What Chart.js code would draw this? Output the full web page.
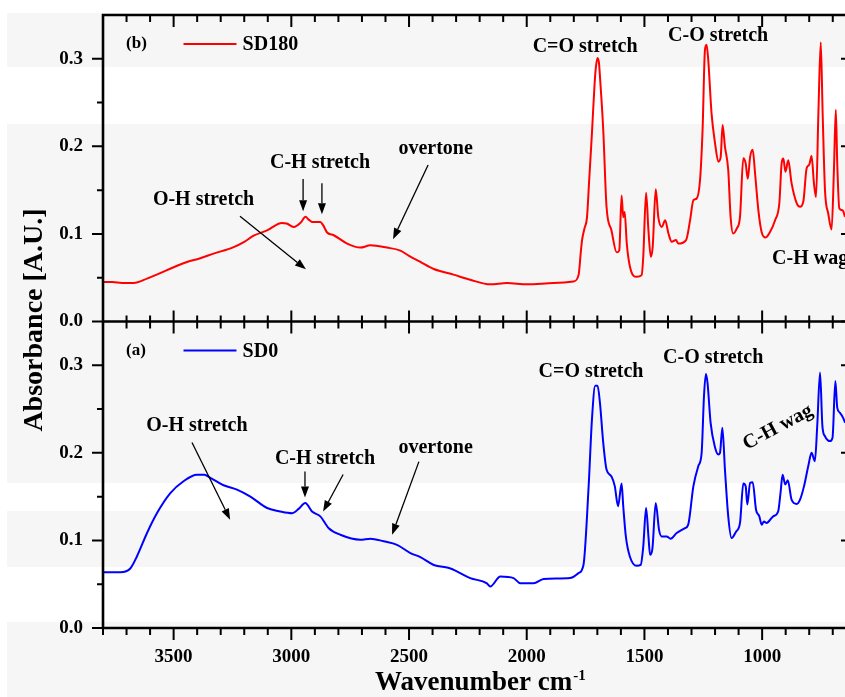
<!DOCTYPE html>
<html>
<head>
<meta charset="utf-8">
<title>FTIR spectra SD0 / SD180</title>
<script src="https://cdn.jsdelivr.net/npm/chart.js@4.4.1/dist/chart.umd.min.js"></script>
<style>
  html, body { margin: 0; padding: 0; background: #fff; overflow: hidden; }
  #wrap { position: relative; width: 845px; height: 697px; }
</style>
</head>
<body>
<div id="wrap"><canvas id="ftirChart" width="845" height="697"></canvas></div>
<script>
// Axis settings
const xMin = 648;
const xMax = 3800;
const yMin = 0;
const yMax = 0.35;
const xMajorTicks = [1000, 1500, 2000, 2500, 3000, 3500];
const yMajorTicks = [0.0, 0.1, 0.2, 0.3];

// SD180 spectrum (top panel, b)
const sd180Wavenumber = [
  3800, 3760, 3720, 3670, 3613, 3560, 3500, 3443, 3390, 3330, 3245, 3200, 3160, 3103, 3040, 3020,
  2990, 2960, 2940, 2925, 2912, 2877, 2865, 2848, 2820, 2763, 2707, 2664, 2594, 2537, 2500, 2452,
  2395, 2311, 2240, 2155, 2084, 1999, 1886, 1801, 1780, 1770, 1765, 1755, 1744, 1735, 1723, 1712,
  1706, 1699, 1693, 1689, 1675, 1661, 1640, 1618, 1607, 1597, 1590, 1584, 1575, 1561, 1533, 1512,
  1505, 1493, 1483, 1473, 1465, 1452, 1441, 1426, 1412, 1398, 1384, 1366, 1356, 1323, 1306, 1292,
  1278, 1264, 1253, 1243, 1236, 1229, 1215, 1200, 1186, 1176, 1168, 1158, 1144, 1134, 1123, 1108,
  1094, 1080, 1070, 1061, 1051, 1040, 1030, 1016, 1002, 985, 967, 945, 927, 917, 910, 901,
  889, 875, 853, 839, 825, 811, 800, 790, 780, 771, 761, 751, 743, 733, 719, 705,
  695, 687, 681, 672, 658, 648
];
const sd180Absorbance = [
  0.045, 0.045, 0.044, 0.044, 0.049, 0.055, 0.062, 0.068, 0.072, 0.0775, 0.085, 0.091, 0.098, 0.104, 0.1126, 0.112,
  0.108, 0.113, 0.1195, 0.116, 0.1137, 0.1137, 0.110, 0.1016, 0.0985, 0.089, 0.0844, 0.087, 0.0844, 0.081, 0.075, 0.068,
  0.060, 0.0535, 0.0477, 0.0424, 0.0439, 0.0424, 0.0439, 0.0458, 0.0527, 0.080, 0.093, 0.106, 0.119, 0.160, 0.215, 0.270,
  0.291, 0.301, 0.295, 0.280, 0.219, 0.131, 0.104, 0.079, 0.081, 0.144, 0.119, 0.125, 0.089, 0.062, 0.051, 0.053,
  0.074, 0.147, 0.104, 0.074, 0.085, 0.151, 0.119, 0.108, 0.1157, 0.1005, 0.091, 0.093, 0.089, 0.093, 0.1157, 0.1386,
  0.1405, 0.161, 0.219, 0.310, 0.316, 0.299, 0.238, 0.2035, 0.1825, 0.188, 0.2245, 0.1997, 0.173, 0.1195, 0.1005, 0.106,
  0.1195, 0.1864, 0.1806, 0.163, 0.188, 0.196, 0.169, 0.127, 0.102, 0.096, 0.102, 0.1157, 0.135, 0.181, 0.186, 0.171,
  0.184, 0.158, 0.135, 0.131, 0.137, 0.175, 0.179, 0.189, 0.158, 0.142, 0.238, 0.319, 0.238, 0.150, 0.123, 0.105,
  0.173, 0.2417, 0.181, 0.129, 0.127, 0.1195
];

// SD0 spectrum (bottom panel, a)
const sd0Wavenumber = [
  3800, 3726, 3684, 3656, 3613, 3571, 3514, 3458, 3401, 3370, 3344, 3288, 3231, 3174, 3103, 3047,
  2997, 2969, 2941, 2912, 2877, 2841, 2792, 2707, 2664, 2608, 2551, 2494, 2452, 2395, 2324, 2240,
  2169, 2155, 2112, 2056, 2027, 1971, 1928, 1815, 1780, 1759, 1737, 1723, 1709, 1699, 1689, 1675,
  1661, 1640, 1626, 1612, 1597, 1590, 1579, 1562, 1533, 1516, 1505, 1493, 1483, 1476, 1466, 1452,
  1438, 1427, 1406, 1389, 1363, 1328, 1314, 1292, 1271, 1257, 1247, 1239, 1232, 1219, 1200, 1186,
  1179, 1169, 1158, 1144, 1130, 1111, 1094, 1080, 1070, 1063, 1051, 1040, 1026, 1012, 1002, 992,
  981, 953, 932, 922, 913, 902, 891, 875, 853, 839, 822, 804, 790, 776, 766, 754,
  744, 733, 712, 701, 689, 681, 670, 656, 648
];
const sd0Absorbance = [
  0.0638, 0.0638, 0.068, 0.0817, 0.1085, 0.131, 0.154, 0.1676, 0.175, 0.175, 0.1715, 0.163, 0.158, 0.150, 0.137, 0.133,
  0.131, 0.136, 0.1428, 0.133, 0.1275, 0.114, 0.1065, 0.1008, 0.102, 0.099, 0.095, 0.0856, 0.081, 0.072, 0.068, 0.057,
  0.051, 0.0473, 0.0588, 0.057, 0.051, 0.051, 0.056, 0.057, 0.0627, 0.072, 0.162, 0.238, 0.2765, 0.2765, 0.257, 0.2116,
  0.181, 0.173, 0.162, 0.139, 0.165, 0.139, 0.1046, 0.0817, 0.071, 0.072, 0.093, 0.137, 0.1046, 0.0836, 0.091, 0.1428,
  0.112, 0.1046, 0.1046, 0.102, 0.1085, 0.114, 0.118, 0.162, 0.185, 0.200, 0.265, 0.290, 0.280, 0.2345, 0.206, 0.198,
  0.200, 0.2288, 0.181, 0.1275, 0.1027, 0.110, 0.120, 0.165, 0.162, 0.141, 0.1657, 0.1664, 0.135, 0.1275, 0.118, 0.1217,
  0.120, 0.1275, 0.133, 0.154, 0.175, 0.164, 0.1687, 0.1466, 0.1417, 0.1466, 0.162, 0.185, 0.200, 0.1905, 0.2306, 0.2918,
  0.2306, 0.219, 0.2134, 0.2173, 0.282, 0.2517, 0.246, 0.240, 0.2345
];

// Band assignments: [text, wavenumber, absorbance, align, angle]
const topLabels = [
  ['O-H stretch', 3373, 0.1386, 'center', 0],
  ['C-H stretch', 2878, 0.181, 'center', 0],
  ['overtone', 2387, 0.197, 'center', 0],
  ['C=O stretch', 1752, 0.3139, 'center', 0],
  ['C-O stretch', 1187, 0.3265, 'center', 0],
  ['C-H wag', 958, 0.071, 'left', 0]
];
const bottomLabels = [
  ['O-H stretch', 3401, 0.2314, 'center', 0],
  ['C-H stretch', 2857, 0.1936, 'center', 0],
  ['overtone', 2387, 0.2062, 'center', 0],
  ['C=O stretch', 1727, 0.292, 'center', 0],
  ['C-O stretch', 1208, 0.308, 'center', 0],
  ['C-H wag', 933, 0.229, 'center', -28]
];

// Arrows: [fromWavenumber, fromAbsorbance, toWavenumber, toAbsorbance]
const topArrows = [
  [3218, 0.1203, 2938, 0.0596],
  [2950, 0.1627, 2950, 0.126],
  [2870, 0.158, 2870, 0.1226],
  [2419, 0.1787, 2568, 0.0939]
];
const bottomArrows = [
  [3422, 0.2119, 3260, 0.1237],
  [2942, 0.1787, 2942, 0.1489],
  [2780, 0.1753, 2865, 0.1329],
  [2458, 0.190, 2572, 0.1065]
];

// Background stripes of the figure (pixel rows)
const stripes = [[13, 67], [124, 483], [511, 567], [622, 697]];

const serif = "'Liberation Serif', 'Times New Roman', serif";

function toPoints(xs, ys) {
  return xs.map((x, i) => ({ x: x, y: ys[i] }));
}

// Draw an arrow with filled head at the tip
function drawArrow(ctx, x1, y1, x2, y2) {
  const ang = Math.atan2(y2 - y1, x2 - x1);
  const headLen = 11;
  const headW = 4;
  const bx = x2 - headLen * Math.cos(ang);
  const by = y2 - headLen * Math.sin(ang);
  ctx.beginPath();
  ctx.moveTo(x1, y1);
  ctx.lineTo(bx, by);
  ctx.stroke();
  ctx.beginPath();
  ctx.moveTo(x2, y2);
  ctx.lineTo(bx + headW * Math.sin(ang), by - headW * Math.cos(ang));
  ctx.lineTo(bx - headW * Math.sin(ang), by + headW * Math.cos(ang));
  ctx.closePath();
  ctx.fill();
}

// Background stripes
const stripePlugin = {
  id: 'stripes',
  beforeDraw(chart) {
    const ctx = chart.ctx;
    ctx.save();
    ctx.fillStyle = '#ffffff';
    ctx.fillRect(0, 0, chart.width, chart.height);
    ctx.fillStyle = '#f6f6f6';
    stripes.forEach(s => ctx.fillRect(7, s[0], chart.width - 7, s[1] - s[0]));
    ctx.restore();
  }
};

// Frame, tick marks, legends, annotations and axis titles
const framePlugin = {
  id: 'frame',
  afterDraw(chart) {
    const ctx = chart.ctx;
    const x = chart.scales.x;
    const yTop = chart.scales.yTop;
    const yBot = chart.scales.yBot;
    const area = chart.chartArea;
    const left = area.left;
    const right = area.right;
    const top = yTop.top;
    const mid = yTop.bottom;
    const bottom = yBot.bottom;

    ctx.save();
    ctx.strokeStyle = '#000';
    ctx.fillStyle = '#000';

    // tick marks
    ctx.lineWidth = 2;
    ctx.beginPath();
    for (let v = 700; v <= xMax; v += 100) {
      const px = x.getPixelForValue(v);
      const major = v % 500 === 0;
      const a = major ? 12 : 7;
      const b = major ? 11 : 6;
      ctx.moveTo(px, top); ctx.lineTo(px, top + a);
      ctx.moveTo(px, mid - b); ctx.lineTo(px, mid + a);
      ctx.moveTo(px, bottom); ctx.lineTo(px, bottom + a);
    }
    [yTop, yBot].forEach(sc => {
      for (let k = 0; k <= 6; k++) {
        const v = k * 0.05;
        const py = sc.getPixelForValue(v);
        const major = k % 2 === 0;
        ctx.moveTo(left - (major ? 11 : 6), py); ctx.lineTo(left, py);
        if (major) { ctx.moveTo(right - 4, py); ctx.lineTo(right, py); }
      }
    });
    ctx.stroke();

    // axis frame
    ctx.lineWidth = 2.6;
    ctx.beginPath();
    ctx.moveTo(right + 2, top); ctx.lineTo(left, top); ctx.lineTo(left, bottom); ctx.lineTo(right + 2, bottom);
    ctx.moveTo(left, mid); ctx.lineTo(right + 2, mid);
    ctx.stroke();

    // panel tags and legends
    const panels = [
      { sc: yTop, tag: '(b)', name: 'SD180', color: '#ff0000', labels: topLabels, arrows: topArrows },
      { sc: yBot, tag: '(a)', name: 'SD0', color: '#0000ff', labels: bottomLabels, arrows: bottomArrows }
    ];
    panels.forEach(p => {
      const ly = p.sc.getPixelForValue(0.317);
      ctx.textBaseline = 'middle';
      ctx.textAlign = 'left';
      ctx.font = 'bold 17px ' + serif;
      ctx.fillText(p.tag, x.getPixelForValue(3702), ly);
      ctx.strokeStyle = p.color;
      ctx.lineWidth = 2;
      ctx.beginPath();
      ctx.moveTo(x.getPixelForValue(3458), ly);
      ctx.lineTo(x.getPixelForValue(3233), ly);
      ctx.stroke();
      ctx.font = 'bold 20px ' + serif;
      ctx.fillText(p.name, x.getPixelForValue(3207), ly + 1);

      ctx.strokeStyle = '#000';
      ctx.lineWidth = 1.3;
      p.arrows.forEach(a => {
        drawArrow(ctx, x.getPixelForValue(a[0]), p.sc.getPixelForValue(a[1]),
          x.getPixelForValue(a[2]), p.sc.getPixelForValue(a[3]));
      });

      ctx.font = 'bold 20px ' + serif;
      p.labels.forEach(l => {
        ctx.save();
        ctx.translate(x.getPixelForValue(l[1]), p.sc.getPixelForValue(l[2]));
        ctx.rotate(l[4] * Math.PI / 180);
        ctx.textAlign = l[3];
        ctx.fillText(l[0], 0, 0);
        ctx.restore();
      });
    });

    // axis titles
    ctx.font = 'bold 28px ' + serif;
    ctx.textAlign = 'center';
    ctx.textBaseline = 'middle';
    ctx.save();
    ctx.translate(35, 320);
    ctx.rotate(-Math.PI / 2);
    ctx.fillText('Absorbance [A.U.]', 0, 0);
    ctx.restore();

    ctx.font = 'bold 27px ' + serif;
    ctx.textAlign = 'left';
    const xt = 'Wavenumber cm';
    const xw = ctx.measureText(xt).width;
    ctx.fillText(xt, 375, 683);
    ctx.font = 'bold 15px ' + serif;
    ctx.fillText('-1', 375 + xw + 1, 676);
    ctx.restore();
  }
};

// Initialize chart
function initChart() {
  const ctx = document.getElementById('ftirChart').getContext('2d');
  const yAxis = (weight) => ({
    type: 'linear',
    position: 'left',
    stack: 'panels',
    stackWeight: weight,
    offset: false,
    min: yMin,
    max: yMax,
    grid: { display: false, drawTicks: false },
    border: { display: false },
    afterBuildTicks: scale => { scale.ticks = yMajorTicks.map(v => ({ value: v })); },
    afterFit: scale => {
      scale.width = 103;
      scale.paddingTop = 0;
      scale.paddingBottom = 0;
    },
    ticks: {
      padding: 20,
      color: '#000',
      font: { family: serif, weight: 'bold', size: 19 },
      callback: v => v.toFixed(1)
    }
  });

  return new Chart(ctx, {
    type: 'line',
    data: {
      datasets: [
        {
          label: 'SD0',
          data: toPoints(sd0Wavenumber, sd0Absorbance),
          yAxisID: 'yBot',
          borderColor: '#0000ff',
          borderWidth: 2,
          pointRadius: 0,
          cubicInterpolationMode: 'monotone'
        },
        {
          label: 'SD180',
          data: toPoints(sd180Wavenumber, sd180Absorbance),
          yAxisID: 'yTop',
          borderColor: '#ff0000',
          borderWidth: 2,
          pointRadius: 0,
          cubicInterpolationMode: 'monotone'
        }
      ]
    },
    options: {
      responsive: false,
      animation: false,
      devicePixelRatio: 1,
      layout: { padding: { top: 15, right: 0, bottom: 0, left: 0 } },
      plugins: {
        legend: { display: false },
        tooltip: { enabled: false }
      },
      scales: {
        x: {
          type: 'linear',
          reverse: true,
          min: xMin,
          max: xMax,
          grid: { display: false, drawTicks: false },
          border: { display: false },
          afterBuildTicks: scale => { scale.ticks = xMajorTicks.map(v => ({ value: v })); },
          afterFit: scale => {
            scale.height = 69;
            scale.paddingLeft = 0;
            scale.paddingRight = 0;
          },
          ticks: {
            padding: 18,
            maxRotation: 0,
            color: '#000',
            font: { family: serif, weight: 'bold', size: 19 },
            callback: v => String(v)
          }
        },
        yBot: yAxis(1),
        yTop: yAxis(1)
      }
    },
    plugins: [stripePlugin, framePlugin]
  });
}

initChart();
</script>
</body>
</html>
